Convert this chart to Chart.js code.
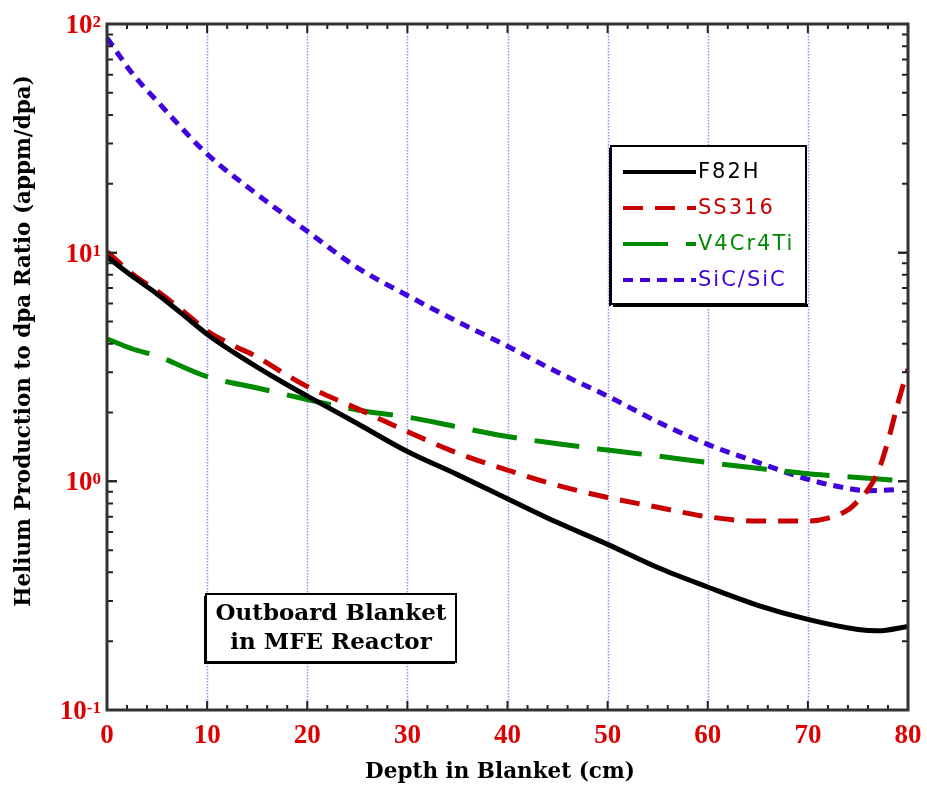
<!DOCTYPE html>
<html>
<head>
<meta charset="utf-8">
<script src="https://cdn.jsdelivr.net/npm/chart.js@4"></script>
<style>
  html, body { margin: 0; padding: 0; background: #fff; }
  #wrap { width: 927px; height: 792px; }
</style>
</head>
<body>
<div id="wrap"><canvas id="chart" width="927" height="792"></canvas></div>
<script>
// depth in blanket (cm) and He/dpa ratio
const depthF82H = [0, 2.5, 5, 7.5, 10, 12.5, 15, 17.5, 20, 25, 30, 35, 40, 45, 50, 55, 60, 65, 70, 75, 77, 80];
const f82h = [9.6, 7.9, 6.6, 5.4, 4.4, 3.7, 3.16, 2.72, 2.36, 1.79, 1.35, 1.07, 0.84, 0.66, 0.53, 0.42, 0.345, 0.287, 0.249, 0.225, 0.222, 0.232];

const depthSS316 = [0, 2.5, 5, 7.5, 10, 12.5, 15, 17.5, 20, 25, 30, 35, 40, 45, 50, 55, 60, 65, 70, 72, 74, 75, 76, 77, 78, 79, 80];
const ss316 = [10.1, 8.1, 6.8, 5.6, 4.55, 3.95, 3.5, 3.0, 2.6, 2.08, 1.65, 1.33, 1.12, 0.96, 0.85, 0.77, 0.70, 0.67, 0.67, 0.69, 0.75, 0.82, 0.92, 1.1, 1.5, 2.2, 3.1];

const depthV4Cr4Ti = [0, 2.5, 5, 10, 15, 20, 25, 30, 35, 40, 45, 50, 55, 60, 65, 70, 75, 80];
const v4cr4ti = [4.2, 3.8, 3.53, 2.87, 2.56, 2.28, 2.05, 1.91, 1.73, 1.57, 1.46, 1.37, 1.29, 1.21, 1.14, 1.08, 1.04, 1.0];

const depthSiC = [0, 2.5, 5, 10, 15, 20, 25, 30, 35, 40, 45, 50, 55, 60, 65, 70, 73, 76, 79];
const sic = [87, 61, 46, 27, 18, 12.4, 8.6, 6.5, 5.0, 3.9, 3.0, 2.36, 1.82, 1.45, 1.21, 1.02, 0.95, 0.91, 0.92];

const seriesNames = ['F82H', 'SS316', 'V4Cr4Ti', 'SiC/SiC'];
const xTicks = [0, 10, 20, 30, 40, 50, 60, 70, 80];
const yDecades = [{ v: 100, e: '2' }, { v: 10, e: '1' }, { v: 1, e: '0' }, { v: 0.1, e: '-1' }];
const xTitle = 'Depth in Blanket (cm)';
const yTitle = 'Helium Production to dpa Ratio (appm/dpa)';
const noteLines = ['Outboard Blanket', 'in MFE Reactor'];

const pts = (xs, ys) => xs.map((x, i) => ({ x: x, y: ys[i] }));

const serif = '"Liberation Serif", "Times New Roman", serif';
const wideSerif = '"DejaVu Serif", serif';
const tickRed = '#dd0000';

// frame, inward ticks, dotted grid, tick labels, titles, legend box and note box
const decor = {
    id: 'decor',
    beforeDatasetsDraw(chart) {
        const { ctx, chartArea: a, scales } = chart;
        ctx.save();
        ctx.strokeStyle = '#8f8ff5';
        ctx.lineWidth = 1.5;
        ctx.setLineDash([1.5, 1.5]);
        for (let v = 10; v < 80; v += 10) {
            const px = Math.round(scales.x.getPixelForValue(v)) + 0.5;
            ctx.beginPath();
            ctx.moveTo(px, a.top);
            ctx.lineTo(px, a.bottom);
            ctx.stroke();
        }
        ctx.restore();
    },
    afterDatasetsDraw(chart) {
        const { ctx, chartArea: a, scales } = chart;
        ctx.save();
        ctx.strokeStyle = '#222';
        ctx.lineWidth = 2;
        // x ticks (bottom and top)
        for (let v = 0; v <= 80; v += 2) {
            const px = scales.x.getPixelForValue(v);
            const len = v % 10 === 0 ? 9 : 5;
            ctx.beginPath();
            ctx.moveTo(px, a.bottom); ctx.lineTo(px, a.bottom - len);
            ctx.moveTo(px, a.top); ctx.lineTo(px, a.top + len);
            ctx.stroke();
        }
        // y ticks (left and right)
        for (let e = -1; e <= 1; e++) {
            for (let m = 1; m <= 10; m++) {
                const val = m * Math.pow(10, e);
                const py = scales.y.getPixelForValue(val);
                const len = (m === 1 || m === 10) ? 10 : 6;
                ctx.beginPath();
                ctx.moveTo(a.left, py); ctx.lineTo(a.left + len, py);
                ctx.moveTo(a.right, py); ctx.lineTo(a.right - len, py);
                ctx.stroke();
            }
        }
        // frame
        ctx.lineWidth = 3;
        ctx.strokeStyle = '#333';
        ctx.strokeRect(a.left, a.top, a.right - a.left, a.bottom - a.top);

        // x tick labels
        ctx.fillStyle = tickRed;
        ctx.font = 'bold 27px ' + serif;
        ctx.textAlign = 'center';
        ctx.textBaseline = 'middle';
        xTicks.forEach(v => {
            ctx.fillText(String(v), scales.x.getPixelForValue(v), a.bottom + 26);
        });

        // y tick labels 10^n
        yDecades.forEach(d => {
            const py = scales.y.getPixelForValue(d.v);
            ctx.font = 'bold 17px ' + serif;
            const ew = ctx.measureText(d.e).width;
            ctx.textBaseline = 'top';
            ctx.textAlign = 'left';
            ctx.fillText(d.e, 101 - ew, py - 10);
            ctx.font = 'bold 27px ' + serif;
            ctx.textBaseline = 'middle';
            ctx.textAlign = 'right';
            ctx.fillText('10', 101 - ew, py + 2);
        });

        // axis titles
        ctx.fillStyle = '#000';
        ctx.font = 'bold 21.5px ' + wideSerif;
        ctx.textAlign = 'center';
        ctx.textBaseline = 'middle';
        ctx.fillText(xTitle, 500, 772);
        ctx.save();
        ctx.translate(24, 341);
        ctx.rotate(-Math.PI / 2);
        ctx.fillText(yTitle, 0, 0);
        ctx.restore();

        // legend
        const lx = 611, ly = 146, lw = 195, lh = 158;
        ctx.fillStyle = '#fff';
        ctx.fillRect(lx, ly, lw, lh);
        ctx.strokeStyle = '#000';
        ctx.lineWidth = 2;
        ctx.strokeRect(lx, ly, lw, lh);
        ctx.fillStyle = '#000';
        ctx.fillRect(lx + 2, ly + lh, lw, 3);
        ctx.fillRect(lx - 2, ly + 2, 2, lh);
        const rows = [172, 208, 244, 280];
        ctx.font = '21px "DejaVu Sans", sans-serif';
        ctx.textAlign = 'left';
        ctx.textBaseline = 'middle';
        ctx.letterSpacing = '2px';
        chart.data.datasets.forEach((ds, i) => {
            ctx.strokeStyle = ds.borderColor;
            ctx.lineWidth = 4;
            ctx.setLineDash(ds.borderDash || []);
            ctx.beginPath();
            ctx.moveTo(623, rows[i]);
            ctx.lineTo(696, rows[i]);
            ctx.stroke();
            ctx.setLineDash([]);
            ctx.fillStyle = ds.borderColor;
            ctx.fillText(ds.label, 698, rows[i] + 1);
        });
        ctx.letterSpacing = '0px';

        // note box
        const bx = 206, by = 594, bw = 250, bh = 68;
        ctx.fillStyle = '#fff';
        ctx.fillRect(bx, by, bw, bh);
        ctx.strokeStyle = '#000';
        ctx.lineWidth = 2;
        ctx.strokeRect(bx, by, bw, bh);
        ctx.fillStyle = '#000';
        ctx.fillRect(bx - 2, by + 2, 2, bh);
        ctx.fillRect(bx - 1, by + bh, bw, 2);
        ctx.font = 'bold 23px ' + wideSerif;
        ctx.textAlign = 'center';
        ctx.fillText(noteLines[0], bx + bw / 2, by + 20);
        ctx.fillText(noteLines[1], bx + bw / 2, by + 49);
        ctx.restore();
    }
};

const chart = new Chart(document.getElementById('chart'), {
    type: 'line',
    data: {
        datasets: [{
            label: seriesNames[0],
            data: pts(depthF82H, f82h),
            borderColor: '#000000',
            borderWidth: 5,
        }, {
            label: seriesNames[1],
            data: pts(depthSS316, ss316),
            borderColor: '#c80000',
            borderWidth: 5,
            borderDash: [20, 12],
        }, {
            label: seriesNames[2],
            data: pts(depthV4Cr4Ti, v4cr4ti),
            borderColor: '#008a00',
            borderWidth: 5,
            borderDash: [45, 18],
        }, {
            label: seriesNames[3],
            data: pts(depthSiC, sic),
            borderColor: '#4000dd',
            borderWidth: 5,
            borderDash: [10, 7],
        }]
    },
    options: {
        responsive: false,
        animation: false,
        layout: { padding: { left: 0, right: 19, top: 24, bottom: 0 } },
        elements: {
            point: { radius: 0 },
            line: { cubicInterpolationMode: 'monotone', fill: false }
        },
        plugins: {
            legend: { display: false },
            tooltip: { enabled: false }
        },
        scales: {
            x: {
                type: 'linear',
                min: 0,
                max: 80,
                afterBuildTicks: (s) => { s.ticks = xTicks.map(v => ({ value: v })); },
                afterFit: (s) => { s.height = 82; },
                grid: { display: false, drawTicks: false },
                border: { display: false },
                ticks: { display: false }
            },
            y: {
                type: 'logarithmic',
                min: 0.1,
                max: 100,
                afterFit: (s) => { s.width = 107; },
                grid: { display: false, drawTicks: false },
                border: { display: false },
                ticks: { display: false }
            }
        }
    },
    plugins: [decor]
});
</script>
</body>
</html>
